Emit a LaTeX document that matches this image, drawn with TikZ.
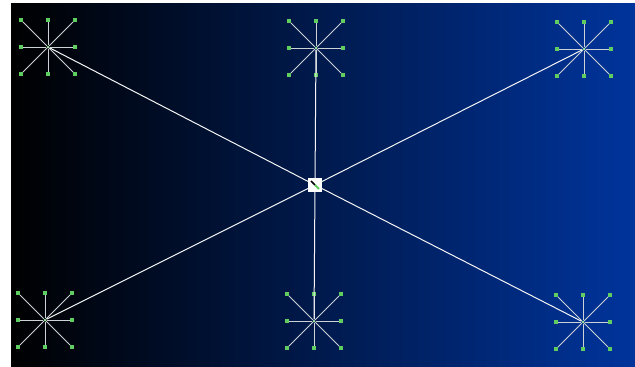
\documentclass[tikz,border=0pt]{standalone}
\definecolor{bgblue}{RGB}{0,52,156}
\definecolor{leafgreen}{RGB}{95,205,95}
\definecolor{spokegray}{RGB}{205,210,215}
\tikzset{
  leaf/.style={fill=leafgreen, draw=none, minimum size=3.5pt, inner sep=0pt},
  core/.style={fill=leafgreen!60!white, draw=none, circle, minimum size=3pt, inner sep=0pt},
  spoke/.style={draw=spokegray, line width=0.9pt},
  wire/.style={draw=white!92!gray, line width=1pt},
  hub/.style={fill=white, draw=white, minimum size=13pt, inner sep=0pt},
}
\begin{document}
\begin{tikzpicture}[x=1pt, y=-1pt]
  \useasboundingbox (0,0) rectangle (635,367);
  % background
  \fill[left color=black, right color=bgblue] (11,3) rectangle (635,367);

  % hub in the middle
  \node[hub] (hub) at (315,185) {};
  \draw[black, line width=1.6pt] ([shift={(-4,-4)}]hub.center) -- ([shift={(0,0)}]hub.center);
  \draw[leafgreen, line width=2pt] ([shift={(0,0)}]hub.center) -- ([shift={(4,4)}]hub.center);

  % stars
  \foreach \n/\x/\y in {tl/48/47, tm/316/48, tr/584/49, bl/45/320, bm/314/321, br/583/322} {
    \node[core] (\n) at (\x,\y) {};
    \foreach \k/\dx/\dy in {1/-27/-27, 2/0/-27, 3/27/-27, 4/27/0, 5/27/27, 6/0/27, 7/-27/27, 8/-27/0} {
      \node[leaf] (\n-\k) at (\x+\dx,\y+\dy) {};
      \draw[spoke] (\n) -- (\n-\k);
    }
  }

  % wires from the hub
  \foreach \n in {tl, tm, tr, bl, bm, br}
    \draw[wire] (hub) -- (\n);
\end{tikzpicture}
\end{document}
